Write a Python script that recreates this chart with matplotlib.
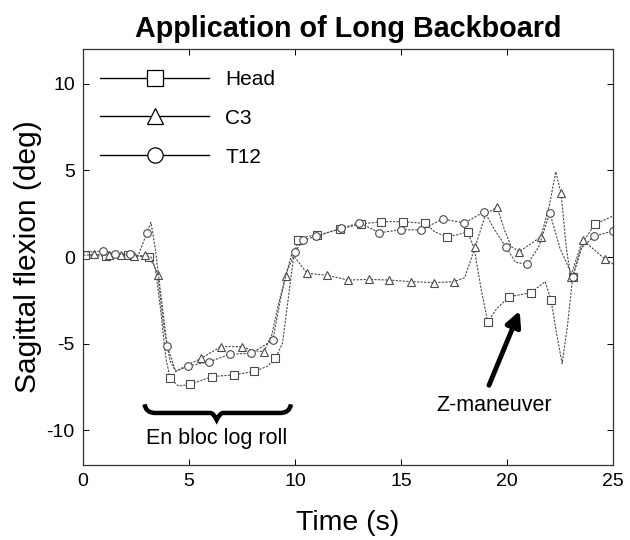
import matplotlib
matplotlib.use("Agg")
import matplotlib.pyplot as plt
from matplotlib.lines import Line2D
from matplotlib.path import Path
from matplotlib.patches import PathPatch

plt.rcParams['font.family'] = ['Liberation Sans', 'DejaVu Sans']
plt.rcParams['axes.unicode_minus'] = False

# ---------------- data ----------------
head_t = [0.0, 0.1, 1.1, 2.1, 3.1, 3.4, 3.65, 3.9, 4.1, 4.5, 5.06, 6.07, 7.14, 8.08, 8.7, 9.07,
          9.4, 9.7, 9.95, 10.16, 10.6, 11.04, 12.14, 13.1, 14.06, 15.1, 16.15, 16.6, 17.15, 17.7,
          18.14, 18.45, 18.8, 19.09, 19.5, 20.1, 21.13, 21.5, 21.8, 22.08, 22.35, 22.6, 22.85,
          23.1, 23.6, 24.15, 25.0]
head_v = [0.1, 0.1, 0.05, 0.1, 0.0, -0.6, -3.0, -5.8, -7.0, -7.45, -7.35, -6.9, -6.8, -6.6, -6.3, -5.85,
          -5.0, -2.2, 0.2, 0.98, 1.2, 1.25, 1.63, 1.9, 2.04, 2.04, 1.94, 1.45, 1.17, 1.3,
          1.46, 0.5, -2.0, -3.73, -3.0, -2.29, -2.06, -1.7, -1.42, -2.5, -4.5, -6.15, -4.0,
          -1.13, 0.9, 1.9, 2.37]
head_marks = [1, 2, 3, 4, 8, 10, 11, 12, 13, 15, 19, 21, 22, 23, 24, 25, 26, 28, 30, 33, 35, 36,
              39, 43, 45]

c3_t = [0.0, 0.5, 1.2, 1.8, 2.4, 2.9, 3.2, 3.52, 3.8, 4.1, 4.37, 4.8, 5.57, 6.5, 7.5, 8.0, 8.52,
        8.9, 9.2, 9.55, 9.85, 10.57, 11.5, 12.5, 13.5, 14.45, 15.47, 16.57, 17.5, 18.0, 18.5,
        19.0, 19.53, 19.9, 20.2, 20.58, 21.6, 22.0, 22.3, 22.55, 22.8, 23.0, 23.57, 24.6, 25.0]
c3_v = [0.1, 0.15, 0.1, 0.1, 0.05, 0.1, 0.0, -1.04, -4.0, -6.0, -6.6, -6.3, -5.85, -5.17, -5.17, -5.4, -5.46,
        -4.5, -2.8, -1.1, 0.2, -0.94, -1.05, -1.33, -1.29, -1.33, -1.42, -1.48, -1.42, -1.2, 0.6,
        2.5, 2.87, 1.5, 0.6, 0.31, 1.17, 3.0, 4.92, 3.67, 0.5, -1.13, 1.0, -0.1, -0.4]
c3_marks = [1, 2, 3, 4, 5, 7, 12, 13, 14, 16, 19, 21, 22, 23, 24, 25, 26, 27, 28, 30, 32, 35, 36,
            39, 41, 42, 43]

t12_t = [0.0, 0.4, 0.93, 1.5, 2.2, 2.6, 3.0, 3.2, 3.4, 3.7, 3.96, 4.37, 4.94, 5.96, 6.95, 7.92,
         8.95, 9.3, 9.6, 10.0, 10.36, 11.0, 12.17, 13.03, 13.98, 15.0, 15.94, 16.97, 17.99, 18.93,
         19.4, 19.95, 20.4, 20.96, 21.5, 22.02, 22.5, 23.1, 23.5, 24.1, 25.0]
t12_v = [0.3, 0.3, 0.35, 0.2, 0.15, 0.1, 1.37, 2.0, 0.5, -2.5, -5.13, -6.6, -6.29, -6.04, -5.6, -5.56,
         -4.8, -2.5, -0.9, 0.3, 0.96, 1.2, 1.65, 1.98, 1.4, 1.58, 1.56, 2.2, 1.96, 2.62,
         1.6, 0.58, -0.3, -0.42, 0.6, 2.55, 0.5, -1.13, 0.5, 1.2, 1.5]
t12_marks = [2, 3, 4, 6, 10, 12, 13, 14, 15, 16, 19, 20, 21, 22, 23, 24, 25, 26, 27, 28, 29, 31,
             33, 35, 37, 39, 40]

series_names = ["Head", "C3", "T12"]
series_markers = ["s", "^", "o"]

x_ticks = [0, 5, 10, 15, 20, 25]
y_ticks = [-10, -5, 0, 5, 10]

# ---------------- figure ----------------
fig = plt.figure(figsize=(6.3, 5.4), dpi=100)
ax = fig.add_axes([0.132, 0.139, 0.841, 0.77])

line_kw = dict(color="#4a4a4a", lw=0.8, linestyle=(0, (2.0, 1.2)),
               markerfacecolor="white", markeredgecolor="#4a4a4a",
               markersize=5.5, markeredgewidth=0.8)
data = [(head_t, head_v, head_marks), (c3_t, c3_v, c3_marks), (t12_t, t12_v, t12_marks)]
for (t, v, mk), m in zip(data, series_markers):
    ax.plot(t, v, marker=m, markevery=mk, **line_kw)

ax.set_xlim(0, 25)
ax.set_ylim(-12, 12)
ax.set_xticks(x_ticks)
ax.set_yticks(y_ticks)
ax.tick_params(direction="in", length=4, width=0.7, labelsize=14, top=True, right=True,
               pad=6)
for s in ax.spines.values():
    s.set_linewidth(0.9)
    s.set_color("#333333")
    s.set_linestyle((0, (1.5, 0.8)))

ax.set_title("Application of Long Backboard", fontsize=20.7, fontweight="bold", pad=9)
ax.set_xlabel("Time (s)", fontsize=20.5, labelpad=14)
ax.set_ylabel("Sagittal flexion (deg)", fontsize=21.5, labelpad=3)

handles = [Line2D([], [], color="black", lw=1.0, marker=m, markersize=11,
                  markerfacecolor="white", markeredgecolor="black", markeredgewidth=0.9)
           for m in series_markers]
ax.legend(handles, series_names, loc="upper left", frameon=False, fontsize=15,
          handlelength=5.2, handletextpad=0.8, labelspacing=0.95,
          borderaxespad=0.3, bbox_to_anchor=(0.005, 0.985))

# curly brace under the en bloc log roll
verts = [(2.9, -8.5), (2.95, -9.0), (3.4, -9.0),
         (6.0, -9.0), (6.15, -9.0), (6.3, -9.4),
         (6.45, -9.0), (6.6, -9.0), (9.3, -9.0),
         (9.75, -9.0), (9.8, -8.5)]
codes = [Path.MOVETO, Path.CURVE3, Path.CURVE3,
         Path.LINETO, Path.CURVE3, Path.CURVE3,
         Path.CURVE3, Path.CURVE3, Path.LINETO,
         Path.CURVE3, Path.CURVE3]
ax.add_patch(PathPatch(Path(verts, codes), facecolor="none", edgecolor="black", lw=3.2))
ax.text(6.3, -10.5, "En bloc log roll", ha="center", va="center", fontsize=15.5)

ax.annotate("", xy=(20.6, -3.1), xytext=(19.15, -7.4),
            arrowprops=dict(arrowstyle="-|>,head_length=0.9,head_width=0.45",
                            lw=3.5, color="black", shrinkA=0, shrinkB=0))
ax.text(19.4, -8.55, "Z-maneuver", ha="center", va="center", fontsize=15.5)

fig.savefig("out.png", dpi=100)
